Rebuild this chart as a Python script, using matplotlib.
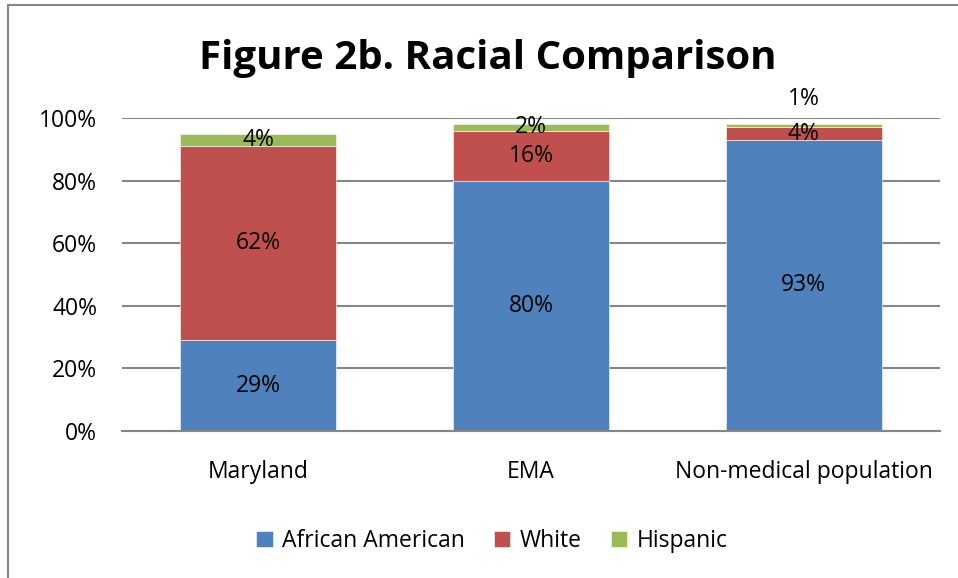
import matplotlib
matplotlib.use('Agg')
import matplotlib.pyplot as plt
from matplotlib.patches import Rectangle

plt.rcParams['font.family'] = ['Open Sans', 'DejaVu Sans']

categories = ['Maryland', 'EMA', 'Non-medical population']
african_american = [29, 80, 93]
white = [62, 16, 4]
hispanic = [4, 2, 1]
series_names = ['African American', 'White', 'Hispanic']
colors = ['#4F81BD', '#C0504D', '#9BBB59']
yticks = [0, 20, 40, 60, 80, 100]

fig = plt.figure(figsize=(9.58, 5.78), dpi=100)
# chart border (partially visible in the original)
fig.patches.append(Rectangle((8 / 958, -0.05), 1.1, 1 - 5 / 578 + 0.05,
                             transform=fig.transFigure, fill=False,
                             edgecolor='#868686', linewidth=1.5))

ax = fig.add_axes([122 / 958, 1 - 431 / 578, 818 / 958, 313 / 578])
x = list(range(len(categories)))
width = 0.572
fs = 16.5

bottoms = [0] * len(categories)
for vals, name, c in zip([african_american, white, hispanic], series_names, colors):
    ax.bar(x, [v / 100 for v in vals], width, bottom=[b / 100 for b in bottoms],
           color=c, label=name, edgecolor='white', linewidth=0.4, zorder=2)
    for i, v in enumerate(vals):
        mid = (bottoms[i] + v / 2) / 100
        if name == 'Hispanic' and categories[i] == 'Non-medical population':
            mid = (bottoms[i] + v) / 100 + 0.08
        ax.text(i, mid, f'{v}%', ha='center', va='center', fontsize=fs, zorder=3)
    bottoms = [b + v for b, v in zip(bottoms, vals)]

ax.set_xlim(-0.5, 2.5)
ax.set_ylim(0, 1)
ax.set_yticks([t / 100 for t in yticks])
ax.set_yticklabels([f'{t}%' for t in yticks], fontsize=fs)
ax.set_xticks(x)
ax.set_xticklabels(categories, fontsize=fs)
ax.tick_params(axis='y', length=0, pad=18)
ax.tick_params(axis='x', length=0, pad=21)
ax.yaxis.grid(True, color='#868686', linewidth=1.5, zorder=0)
ax.set_axisbelow(True)
for s in ['left', 'right', 'top']:
    ax.spines[s].set_visible(False)
ax.spines['bottom'].set_color('#868686')
ax.spines['bottom'].set_linewidth(1.5)

fig.text(488 / 958, 1 - 58 / 578, 'Figure 2b. Racial Comparison', ha='center',
         va='center', fontsize=29, fontweight='bold')

fig.legend(loc='center', bbox_to_anchor=(492 / 958, 1 - 541 / 578), ncol=3,
           frameon=False, fontsize=fs, handlelength=0.7, handleheight=0.7,
           handletextpad=0.4, columnspacing=1.3)

fig.savefig('out.png', dpi=100)
plt.close('all')
